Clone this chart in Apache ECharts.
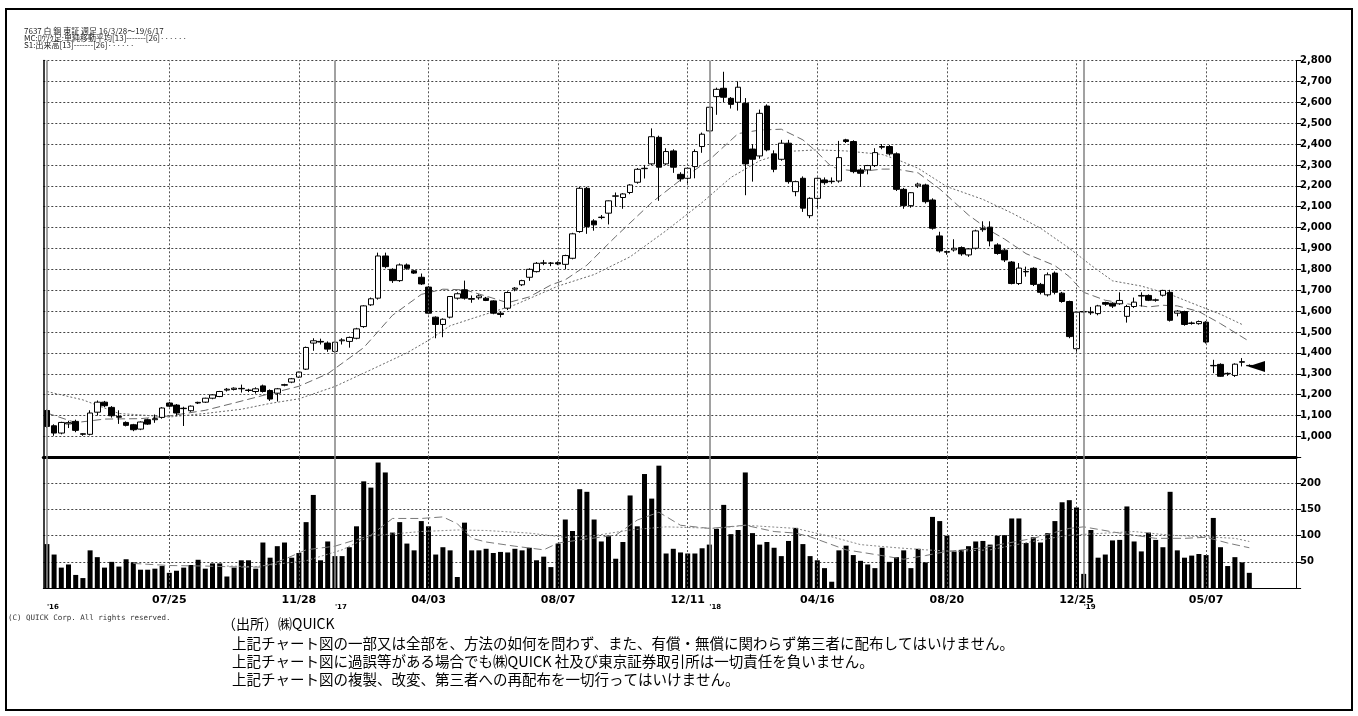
<!DOCTYPE html>
<html><head><meta charset="utf-8">
<script src="https://cdn.jsdelivr.net/npm/echarts@6/dist/echarts.min.js"></script>
<style>html,body{margin:0;padding:0;background:#fff}#c{width:1358px;height:716px}</style>
</head><body><div id="c"></div>
<script>
// ---- weekly OHLC (7637 白銅, 2016/3/28 - 2019/6/17) ----
const open = [
1124,1051,1016,1060,1072,1010,1010,1116,1164,1139,
1095,1067,1056,1035,1080,1080,1091,1160,1150,1135,
1123,1160,1164,1183,1191,1222,1225,1230,1222,1215,
1242,1220,1207,1245,1260,1284,1322,1447,1455,1447,
1407,1458,1455,1470,1526,1630,1662,1864,1800,1746,
1821,1793,1762,1715,1571,1536,1571,1662,1702,1660,
1664,1662,1649,1590,1614,1705,1726,1762,1789,1829,
1829,1832,1824,1853,1981,2188,2032,2048,2069,2150,
2144,2168,2217,2282,2305,2432,2305,2367,2255,2236,
2292,2388,2463,2627,2667,2619,2600,2595,2376,2343,
2582,2353,2327,2404,2172,2236,2057,2140,2228,2220,
2223,2420,2412,2276,2276,2297,2388,2388,2353,2183,
2105,2200,2204,2132,1960,1885,1893,1904,1869,1901,
1990,2002,1917,1892,1835,1732,1790,1805,1728,1678,
1782,1686,1646,1420,1598,1595,1588,1641,1638,1635,
1575,1622,1672,1675,1652,1676,1690,1590,1598,1543,
1540,1547,1340,1345,1300,1292,1355,1340];
const close = [
1048,1016,1067,1066,1029,1013,1112,1164,1147,1099,
1092,1053,1032,1069,1059,1085,1136,1145,1112,1133,
1145,1163,1183,1199,1215,1226,1231,1228,1220,1228,
1215,1179,1228,1248,1276,1308,1426,1458,1452,1418,
1451,1462,1474,1515,1625,1659,1864,1813,1746,1821,
1805,1782,1730,1590,1536,1561,1670,1683,1662,1657,
1673,1651,1590,1584,1689,1710,1746,1800,1829,1831,
1830,1826,1866,1970,2188,2005,2013,2050,2128,2152,
2161,2204,2279,2284,2435,2289,2364,2289,2233,2284,
2364,2447,2576,2662,2624,2590,2672,2305,2327,2547,
2372,2279,2404,2220,2220,2093,2140,2236,2215,2222,
2335,2412,2268,2260,2297,2359,2385,2353,2183,2105,
2167,2208,2124,1997,1888,1882,1901,1874,1898,1984,
1995,1936,1876,1845,1732,1806,1788,1728,1690,1774,
1690,1646,1478,1595,1596,1592,1625,1633,1624,1651,
1622,1643,1675,1652,1654,1699,1556,1600,1536,1541,
1550,1452,1338,1288,1302,1346,1358,1338];
const low = [
1040,1003,1010,1040,1020,1003,1005,1100,1140,1090,
1060,1048,1025,1030,1055,1065,1085,1140,1100,1050,
1118,1155,1160,1178,1188,1215,1220,1210,1212,1205,
1210,1170,1167,1240,1255,1280,1318,1410,1440,1405,
1400,1440,1425,1465,1520,1625,1655,1805,1735,1740,
1798,1778,1725,1585,1470,1475,1565,1655,1655,1640,
1655,1648,1585,1570,1605,1695,1720,1745,1785,1820,
1815,1820,1800,1848,1975,1970,1985,2040,2015,2100,
2090,2160,2210,2235,2300,2128,2300,2262,2220,2210,
2236,2358,2455,2540,2600,2570,2560,2155,2220,2330,
2365,2265,2320,2210,2150,2075,2045,2090,2205,2210,
2215,2405,2260,2195,2255,2290,2375,2345,2175,2090,
2095,2190,2115,1990,1880,1870,1885,1865,1860,1895,
1980,1910,1870,1835,1728,1725,1765,1720,1680,1670,
1680,1640,1470,1405,1590,1582,1580,1625,1615,1630,
1545,1615,1622,1648,1645,1670,1550,1575,1530,1535,
1535,1445,1303,1285,1290,1285,1335,1335];
const high = [
1130,1058,1070,1075,1080,1015,1125,1172,1170,1145,
1125,1072,1060,1072,1085,1105,1140,1165,1155,1142,
1148,1166,1185,1202,1218,1232,1235,1248,1228,1235,
1248,1225,1232,1252,1280,1310,1430,1470,1468,1455,
1455,1470,1478,1520,1628,1665,1880,1880,1805,1828,
1828,1798,1780,1720,1575,1565,1672,1690,1746,1675,
1680,1668,1652,1598,1695,1715,1750,1805,1835,1845,
1835,1838,1870,1975,2195,2195,2040,2060,2130,2168,
2165,2208,2285,2300,2475,2440,2380,2375,2265,2290,
2375,2455,2580,2670,2746,2625,2700,2620,2400,2565,
2590,2370,2420,2420,2225,2245,2145,2240,2240,2240,
2415,2425,2418,2285,2300,2380,2400,2395,2360,2190,
2170,2215,2210,2140,1980,1890,1944,1910,1902,1990,
2030,2030,1925,1900,1840,1830,1813,1810,1735,1785,
1790,1692,1650,1600,1602,1620,1630,1645,1642,1690,
1630,1665,1690,1680,1660,1702,1702,1605,1602,1550,
1555,1552,1367,1350,1306,1350,1375,1345];
// weekly volume (thousand shares)
const volume = [
84,64,39,45,25,19,72,59,39,50,
41,55,49,35,35,37,42,29,33,39,
44,54,37,47,47,22,39,53,53,37,
87,58,80,87,58,67,126,178,53,89,
61,61,78,118,204,192,240,221,106,126,
85,72,128,118,64,78,72,21,125,72,
72,75,67,69,68,75,72,77,53,60,
40,85,131,109,189,184,131,89,100,56,
88,177,118,218,171,234,66,75,68,66,
66,76,83,113,159,103,111,221,105,83,
88,77,61,90,115,84,61,53,38,12,
72,81,63,52,45,38,77,50,59,72,
38,75,49,136,128,100,70,73,80,89,
90,83,100,101,133,133,86,97,87,105,
128,164,168,154,27,111,58,64,91,92,
156,89,70,106,92,78,184,72,58,62,
65,63,134,78,42,59,49,29];
// moving averages: [week index, value]
const priceMA13 = [[0,1112],[4,1066],[8,1083],[13,1085],[17,1098],[22,1125],[26,1160],[31,1205],[35,1240],[39,1300],[44,1425],[48,1580],[52,1680],[55,1705],[58,1702],[61,1672],[64,1640],[67,1668],[70,1725],[72,1750],[75,1820],[79,1957],[84,2120],[88,2228],[92,2324],[96,2450],[99,2467],[102,2471],[105,2420],[107,2360],[109,2290],[111,2276],[113,2268],[116,2280],[118,2280],[121,2262],[124,2185],[128,2060],[131,1985],[133,1945],[136,1875],[140,1818],[142,1765],[144,1690],[147,1652],[150,1635],[153,1620],[155,1628],[157,1625],[160,1598],[163,1540],[167,1455]];
const priceMA26 = [[0,1215],[5,1175],[10,1110],[17,1093],[22,1110],[27,1130],[31,1158],[35,1180],[40,1239],[45,1319],[50,1400],[53,1460],[56,1530],[60,1575],[65,1630],[71,1720],[76,1775],[81,1860],[86,1985],[91,2120],[95,2240],[99,2320],[103,2365],[107,2372],[111,2367],[116,2350],[118,2327],[121,2284],[125,2196],[130,2135],[134,2070],[138,1997],[142,1901],[145,1820],[148,1745],[152,1720],[156,1680],[160,1625],[163,1585],[166,1536]];
const volMA13 = [[12,47],[17,43],[22,42],[27,40],[30,40],[33,55],[36,73],[40,80],[45,101],[48,133],[52,133],[55,136],[57,123],[59,95],[61,88],[65,80],[69,73],[71,86],[74,92],[79,101],[82,130],[85,145],[88,120],[92,114],[97,120],[101,108],[104,105],[106,98],[111,73],[116,62],[119,55],[122,62],[125,70],[130,77],[137,95],[142,114],[144,117],[149,105],[154,95],[158,95],[161,97],[164,86],[167,77]];
const volMA26 = [[25,42],[29,41],[36,52],[41,73],[45,100],[52,108],[57,111],[61,110],[67,105],[72,97],[76,100],[81,111],[86,117],[93,114],[97,120],[104,114],[109,98],[113,83],[118,77],[122,73],[126,70],[131,73],[138,92],[142,101],[147,105],[151,108],[156,101],[161,98],[165,95],[167,89]];
// axis ticks
const dateTickIdx = [17,35,53,71,89,107,125,143,161];
const dateTickText = ['07/25','11/28','04/03','08/07','12/11','04/16','08/20','12/25','05/07'];
const yearTickIdx = [0,40,92,144];
const yearTickText = ["'16","'17","'18","'19"];
const EMPTY_SLOTS = 6;

// categories: trading weeks (no trading in Golden Week 2019/4/29)
const weeks = [];
(function(){
  let t = Date.UTC(2016,2,28);
  while (weeks.length < open.length) {
    const d = new Date(t);
    const y = d.getUTCFullYear(), m = d.getUTCMonth()+1, dd = d.getUTCDate();
    if (!(y === 2019 && m === 4 && dd === 29)) weeks.push(y + '/' + m + '/' + dd);
    t += 7*864e5;
  }
})();
const cats = weeks.slice();
for (let k = 0; k < EMPTY_SLOTS; k++) cats.push('pad' + k);

const candles = open.map((o,i) => [o, close[i], low[i], high[i]]);
const toPts = arr => arr.map(p => [cats[p[0]], p[1]]);

const chart = echarts.init(document.getElementById('c'), null, {renderer:'canvas'});
const GRID_L = 43.3, GRID_R = 1358 - 1296.1;
const P_TOP = 60.5, P_BOT = 457.3, V_BOT = 588;
const gridDot = {color:'#444', width:1, type:[2,2]};
const vLines = dateTickIdx.map(i => ({xAxis: cats[i], lineStyle:{color:'#555', width:1, type:[2,2]}}))
  .concat(yearTickIdx.map(i => ({xAxis: cats[i], lineStyle:{color:'#8a8a8a', width:1.6, type:'solid'}})));
const mlBase = {symbol:['none','none'], silent:true, label:{show:false}, data:vLines, animation:false};
const labelFont = {fontFamily:'DejaVu Sans', fontWeight:'bold', color:'#000'};

chart.setOption({
  animation:false,
  backgroundColor:'#fff',
  grid:[
    {left:GRID_L, right:GRID_R, top:P_TOP, height:P_BOT-P_TOP},
    {left:GRID_L, right:GRID_R, top:P_BOT, height:V_BOT-P_BOT},
    {left:GRID_L, right:GRID_R, top:P_BOT, height:V_BOT-P_BOT}
  ],
  xAxis:[
    {type:'category', gridIndex:0, data:cats, position:'bottom', boundaryGap:true,
     axisLine:{show:true, onZero:false, lineStyle:{color:'#000', width:3}}, axisTick:{show:false}, axisLabel:{show:false}, splitLine:{show:false}},
    {type:'category', gridIndex:1, data:cats, position:'bottom', boundaryGap:true,
     axisLine:{show:true, onZero:false, lineStyle:{color:'#000', width:1}}, axisTick:{show:false}, splitLine:{show:false},
     axisLabel:Object.assign({show:true, fontSize:11, margin:7,
       interval:(idx) => dateTickIdx.indexOf(idx) >= 0,
       formatter:(v, idx) => { const k = dateTickIdx.indexOf(idx); return k >= 0 ? dateTickText[k] : ''; }}, labelFont)},
    {type:'category', gridIndex:2, data:cats, position:'bottom', boundaryGap:true,
     axisLine:{show:false}, axisTick:{show:false}, splitLine:{show:false},
     axisLabel:Object.assign({show:true, fontSize:7, margin:16, align:'left',
       interval:(idx) => yearTickIdx.indexOf(idx) >= 0,
       formatter:(v, idx) => { const k = yearTickIdx.indexOf(idx); return k >= 0 ? yearTickText[k] : ''; }}, labelFont)}
  ],
  yAxis:[
    {type:'value', gridIndex:0, position:'right', min:900, max:2800, interval:100,
     axisLine:{show:true, lineStyle:{color:'#000'}}, axisTick:{show:true, length:5, lineStyle:{color:'#000'}},
     splitLine:{show:true, lineStyle:gridDot},
     axisLabel:Object.assign({fontSize:10, margin:4, formatter:v => (v >= 1000 ? v.toLocaleString('en-US') : '')}, labelFont)},
    {type:'value', gridIndex:1, position:'right', min:0, max:250, interval:50,
     axisLine:{show:true, lineStyle:{color:'#000'}}, axisTick:{show:true, length:5, lineStyle:{color:'#000'}},
     splitLine:{show:true, lineStyle:gridDot},
     axisLabel:Object.assign({fontSize:10, margin:4, formatter:v => (v > 0 && v < 250 ? String(v) : '')}, labelFont)},
    {type:'value', gridIndex:0, position:'left', min:900, max:2800,
     axisLine:{show:true, lineStyle:{color:'#000', width:1.5}}, axisTick:{show:false}, axisLabel:{show:false}, splitLine:{show:false}},
    {type:'value', gridIndex:1, position:'left', min:0, max:250,
     axisLine:{show:true, lineStyle:{color:'#000', width:1.5}}, axisTick:{show:false}, axisLabel:{show:false}, splitLine:{show:false}},
    {type:'value', gridIndex:2, min:0, max:250, show:false}
  ],
  series:[
    {type:'line', name:'MA13', xAxisIndex:0, yAxisIndex:0, data:toPts(priceMA13), showSymbol:false, z:2,
     lineStyle:{color:'#6a6a6a', width:1, type:[8,4]}, markLine:mlBase},
    {type:'line', name:'MA26', xAxisIndex:0, yAxisIndex:0, data:toPts(priceMA26), showSymbol:false, z:2,
     lineStyle:{color:'#6a6a6a', width:1, type:[2,2]}},
    {type:'candlestick', name:'price', xAxisIndex:0, yAxisIndex:0, data:candles, barWidth:6, z:3,
     itemStyle:{color:'#fff', color0:'#000', borderColor:'#000', borderColor0:'#000', borderColorDoji:'#000', borderWidth:1},
     markPoint:{silent:true, animation:false, label:{show:false},
       data:[{coord:[cats[open.length], 1335], symbol:'triangle', symbolSize:[11,17], symbolRotate:90, itemStyle:{color:'#000'}}]}},
    {type:'bar', name:'volume', xAxisIndex:1, yAxisIndex:1, data:volume, barWidth:5, z:2,
     itemStyle:{color:'#000'}, markLine:mlBase},
    {type:'line', name:'VMA13', xAxisIndex:1, yAxisIndex:1, data:toPts(volMA13), showSymbol:false, z:4,
     lineStyle:{color:'#7a7a7a', width:1, type:[8,4]}},
    {type:'line', name:'VMA26', xAxisIndex:1, yAxisIndex:1, data:toPts(volMA26), showSymbol:false, z:4,
     lineStyle:{color:'#8a8a8a', width:1, type:[2,2]}}
  ],
  graphic:[
    {type:'rect', silent:true, shape:{x:6, y:9, width:1346, height:701}, style:{fill:'none', stroke:'#000', lineWidth:2}},
    {type:'text', silent:true, x:24, y:27, style:{text:'7637 白 銅 東証 週足 16/3/28～19/6/17', font:'8px "Noto Sans CJK JP"', fill:'#222'}},
    {type:'text', silent:true, x:24, y:34, style:{text:'MC:ﾛｳｿｸ足:単純移動平均[13]-------[26]······', font:'8px "Noto Sans CJK JP"', fill:'#222'}},
    {type:'text', silent:true, x:24, y:41, style:{text:'S1:出来高[13]-------[26]······', font:'8px "Noto Sans CJK JP"', fill:'#222'}},
    {type:'text', silent:true, x:8, y:614, style:{text:'(C) QUICK Corp. All rights reserved.', font:'7.5px "DejaVu Sans Mono"', fill:'#333'}},
    {type:'text', silent:true, x:222, y:617, style:{text:'（出所）㈱QUICK', font:'14px "Noto Sans CJK JP"', fill:'#000'}},
    {type:'text', silent:true, x:232, y:636, style:{text:'上記チャート図の一部又は全部を、方法の如何を問わず、また、有償・無償に関わらず第三者に配布してはいけません。', font:'14.5px "Noto Sans CJK JP"', fill:'#000'}},
    {type:'text', silent:true, x:232, y:654, style:{text:'上記チャート図に過誤等がある場合でも㈱QUICK 社及び東京証券取引所は一切責任を負いません。', font:'14.5px "Noto Sans CJK JP"', fill:'#000'}},
    {type:'text', silent:true, x:232, y:672, style:{text:'上記チャート図の複製、改変、第三者への再配布を一切行ってはいけません。', font:'14.5px "Noto Sans CJK JP"', fill:'#000'}}
  ]
});
</script></body></html>
